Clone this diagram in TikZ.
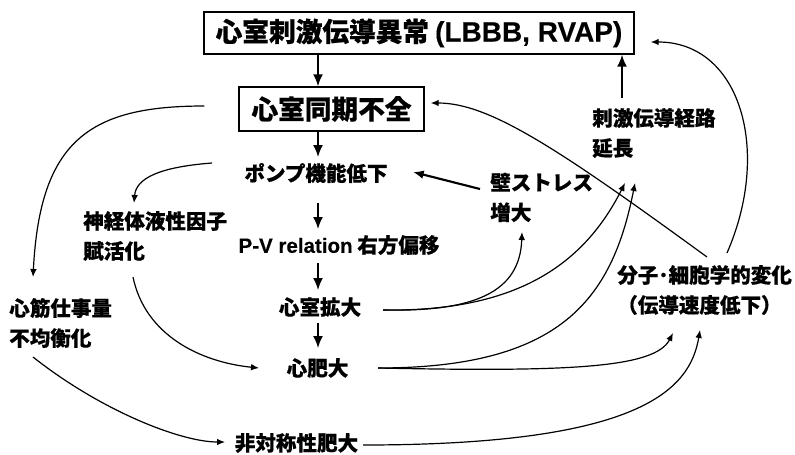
\documentclass[tikz,border=0pt]{standalone}
\usepackage{fontspec}
\setmainfont{Noto Sans CJK JP}[FakeBold=0.6]
\newfontfamily\lat{Liberation Sans}[FakeBold=0.3]
\usetikzlibrary{arrows.meta,calc}
\tikzset{
  lbl/.style={font=\fontsize{15.4pt}{22.5pt}\selectfont\bfseries, inner sep=0pt, align=left},
  boxed/.style={draw, line width=1.1pt, font=\fontsize{20pt}{24pt}\selectfont\bfseries, inner sep=0pt},
  vert/.style={line width=1.3pt, -{Latex[length=9pt,width=7.5pt]}},
  conn/.style={line width=0.9pt, -{Latex[length=6pt,width=5pt]}},
  thickconn/.style={line width=1.6pt, -{Latex[length=8pt,width=6.5pt]}},
}
\begin{document}
\begin{tikzpicture}[x=0.75pt,y=-0.75pt]
\useasboundingbox (0,0) rectangle (795,454);
% nodes
\node[boxed, minimum width=322.5pt, minimum height=31.5pt] (top) at (419,33) {心室刺激伝導異常 {\lat\fontsize{21pt}{24pt}\selectfont\bfseries (LBBB, RVAP)}};
\node[boxed, minimum width=138.75pt, minimum height=33pt] (box2) at (331.5,109) {心室同期不全};
\node[lbl] (pump) at (316,173) {ポンプ機能低下};
\node[lbl] (pv) at (339,245) {{\lat\bfseries P-V relation} 右方偏移};
\node[lbl] (kakudai) at (320,307) {心室拡大};
\node[lbl] (hidai) at (317.5,368) {心肥大};
\node[lbl] (asym) at (296.5,443) {非対称性肥大};
\node[lbl, anchor=west] (shinkin) at (9,323) {心筋仕事量\\\bfseries 不均衡化};
\node[lbl, anchor=west] (shinkei) at (83,236) {神経体液性因子\\\bfseries 賦活化};
\node[lbl, anchor=west] (heki) at (490,197.5) {壁ストレス\\\bfseries 増大};
\node[lbl, anchor=west] (shigeki) at (592,133) {刺激伝導経路\\\bfseries 延長};
\node[lbl, anchor=west] (bunshi) at (617,290) {分子･細胞学的変化\\\bfseries （伝導速度低下）};
\coordinate (ax) at (318,0);
% vertical chain
\draw[vert] (top.south -| ax) -- (box2.north -| ax);
\draw[vert] (box2.south -| ax) -- ($(pump)+(2,-16)$);
\draw[vert] ($(pump)+(2,30)$) -- ($(pv)+(-21,-16)$);
\draw[vert] ($(pv)+(-21,18)$) -- ($(kakudai)+(-2,-17)$);
\draw[vert] ($(kakudai)+(-2,16)$) -- ($(hidai)+(0.5,-20)$);
\draw[vert] ($(shigeki.west)+(30,-35)$) -- ($(top.south)+(203,0)$);
% curved connectors
\draw[conn] ($(box2.west)+(-34,-3)$) .. controls (90,106) and (40,140) .. ($(shinkin.west)+(24,-46)$);
\draw[conn] ($(pump)+(-104,-10)$) .. controls (160,167) and (136,178) .. ($(shinkei.west)+(51,-33)$);
\draw[conn] ($(shinkei.west)+(50,41)$) .. controls (145,335) and (200,362) .. ($(hidai)+(-58.5,0)$);
\draw[conn] ($(shinkin.west)+(24,34)$) .. controls (100,410) and (180,442) .. ($(asym)+(-71.5,-1)$);
\draw[conn] ($(asym)+(66.5,2)$) .. controls (640,445) and (690,390) .. ($(bunshi.west)+(83,40)$);
\draw[conn] ($(hidai)+(60.5,0)$) .. controls (570,372) and (655,368) .. ($(bunshi.west)+(56,43)$);
\draw[conn] ($(hidai)+(60.5,0)$) .. controls (560,368) and (612,300) .. ($(shigeki.west)+(43,50)$);
\draw[conn] ($(kakudai)+(63,3)$) .. controls (520,312) and (585,262) .. ($(shigeki.west)+(33,50)$);
\draw[conn] ($(kakudai)+(63,3)$) .. controls (475,312) and (520,292) .. ($(heki.west)+(32,34.5)$);
\draw[thickconn] ($(heki.west)+(-10,-8.5)$) -- ($(pump)+(97,-1)$);
\draw[conn] ($(bunshi.west)+(90,-33)$) .. controls (560,150) and (490,103) .. ($(box2.east)+(6,-6)$);
\draw[conn] ($(bunshi.west)+(110,-37)$) .. controls (772,150) and (740,42) .. ($(top.east)+(16,9)$);
\end{tikzpicture}
\end{document}
